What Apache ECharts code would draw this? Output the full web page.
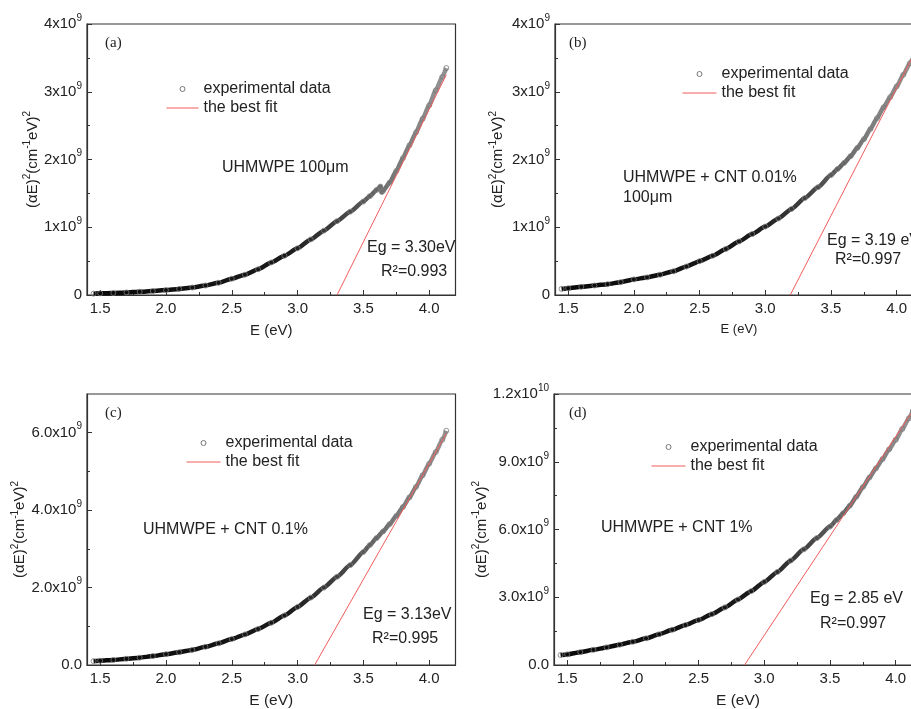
<!DOCTYPE html>
<html>
<head>
<meta charset="utf-8">
<script src="https://cdn.jsdelivr.net/npm/echarts@6/dist/echarts.min.js"></script>
<style>
  html, body { margin: 0; padding: 0; background: #fff; }
  #chart { width: 911px; height: 709px; }
</style>
</head>
<body>
<div id="chart"></div>
<script>
// Photon energy E (eV) of the sampled absorption points
const energy = [1.45, 1.5, 1.6, 1.7, 1.8, 1.9, 2.0, 2.1, 2.2, 2.3, 2.4, 2.5, 2.6, 2.7, 2.8, 2.9,
  3.0, 3.1, 3.2, 3.3, 3.4, 3.5, 3.55, 3.6, 3.65, 3.7, 3.75, 3.8, 3.85, 3.9, 3.95, 4.0, 4.05, 4.1, 4.13];
// pure UHMWPE has a small step near 3.63 eV (lamp change)
const energyA = [1.45, 1.5, 1.6, 1.7, 1.8, 1.9, 2.0, 2.1, 2.2, 2.3, 2.4, 2.5, 2.6, 2.7, 2.8, 2.9,
  3.0, 3.1, 3.2, 3.3, 3.4, 3.5, 3.55, 3.6, 3.63, 3.64, 3.65, 3.7, 3.75, 3.8, 3.85, 3.9, 3.95, 4.0, 4.05, 4.1, 4.13];

// (αE)^2 in units of 1e9 cm^-2 eV^2
const alphaE2_A = [0.02, 0.025, 0.03, 0.038, 0.047, 0.058, 0.072, 0.09, 0.11, 0.14, 0.18, 0.24, 0.30, 0.38, 0.48, 0.58,
  0.69, 0.82, 0.95, 1.09, 1.23, 1.38, 1.46, 1.55, 1.60, 1.52, 1.54, 1.66, 1.83, 2.02, 2.21, 2.40, 2.60, 2.80, 3.02, 3.22, 3.35];
const alphaE2_B = [0.09, 0.10, 0.12, 0.14, 0.16, 0.19, 0.23, 0.26, 0.30, 0.35, 0.42, 0.50, 0.58, 0.68, 0.79, 0.90,
  1.01, 1.13, 1.27, 1.43, 1.59, 1.77, 1.86, 1.95, 2.05, 2.17, 2.30, 2.45, 2.61, 2.77, 2.92, 3.08, 3.25, 3.42, 3.52];
const alphaE2_C = [0.10, 0.11, 0.13, 0.16, 0.19, 0.23, 0.28, 0.33, 0.39, 0.47, 0.56, 0.67, 0.79, 0.93, 1.09, 1.28,
  1.50, 1.74, 2.00, 2.28, 2.58, 2.92, 3.10, 3.28, 3.45, 3.64, 3.85, 4.08, 4.33, 4.60, 4.90, 5.20, 5.50, 5.82, 6.05];
const alphaE2_D = [0.44, 0.47, 0.57, 0.67, 0.78, 0.90, 1.03, 1.18, 1.36, 1.56, 1.77, 1.99, 2.25, 2.55, 2.90, 3.27,
  3.68, 4.12, 4.62, 5.12, 5.62, 6.13, 6.42, 6.72, 7.05, 7.45, 7.88, 8.30, 8.71, 9.12, 9.55, 9.97, 10.45, 10.92, 11.25];

// Linear fits: start at the band gap Eg (zero crossing), end at the last measured energy
const fitEnergyA = [3.30, 4.13];
const fitValueA = [0, 3.25];
const fitEnergyB = [3.19, 4.13];
const fitValueB = [0, 3.55];
const fitEnergyC = [3.13, 4.13];
const fitValueC = [0, 5.98];
const fitEnergyD = [2.85, 4.13];
const fitValueD = [0, 11.25];

// Axis ticks (E in eV, (αE)^2 in 1e9 units)
const xMajorTicks = [1.5, 2.0, 2.5, 3.0, 3.5, 4.0];
const xMinorTicks = [1.75, 2.25, 2.75, 3.25, 3.75];
const yMajorAB = [0, 1, 2, 3, 4];
const yMinorAB = [0.5, 1.5, 2.5, 3.5];
const yMajorC = [0, 2, 4, 6];
const yMinorC = [1, 3, 5];
const yMajorD = [0, 3, 6, 9, 12];
const yMinorD = [1.5, 4.5, 7.5, 10.5];

// Panel texts
const panelTags = ['(a)', '(b)', '(c)', '(d)'];
const sampleNames = ['UHMWPE 100μm', 'UHMWPE + CNT 0.01%\n100μm', 'UHMWPE + CNT 0.1%', 'UHMWPE + CNT 1%'];
const gapTexts = ['Eg = 3.30eV', 'Eg = 3.19 eV', 'Eg = 3.13eV', 'Eg = 2.85 eV'];
const r2Texts = ['R²=0.993', 'R²=0.997', 'R²=0.995', 'R²=0.997'];

const FONT = "'Liberation Sans', Arial, Helvetica, sans-serif";
const SERIF = "'Liberation Serif', 'Times New Roman', serif";
const INK = '#222';
const AXIS = '#333';
const FIT_RED = '#f25c5c';
const CLEAR = 'rgba(0,0,0,0)';

const panels = [
  { grid: { left: 87, top: 24, width: 368.5, height: 271 }, energy: energyA, values: alphaE2_A,
    fitE: fitEnergyA, fitV: fitValueA, yMax: 4, yMajor: yMajorAB, yMinor: yMinorAB, yDec: 0,
    yNameGap: 44, xNameSize: 15,
    legend: { left: 166, top: 81, itemWidth: 32 },
    tag: [105, 43], name: [222, 168], eg: [367, 248], r2: [381, 272] },
  { grid: { left: 555, top: 24, width: 368, height: 271 }, energy: energy, values: alphaE2_B,
    fitE: fitEnergyB, fitV: fitValueB, yMax: 4, yMajor: yMajorAB, yMinor: yMinorAB, yDec: 0,
    yNameGap: 47, xNameSize: 13,
    legend: { left: 682, top: 66, itemWidth: 34 },
    tag: [569, 43], name: [623, 188], eg: [827, 241], r2: [835, 260] },
  { grid: { left: 87, top: 394, width: 368.5, height: 271 }, energy: energy, values: alphaE2_C,
    fitE: fitEnergyC, fitV: fitValueC, yMax: 7, yMajor: yMajorC, yMinor: yMinorC, yDec: 1,
    yNameGap: 55, xNameSize: 15.5,
    legend: { left: 186, top: 435, itemWidth: 34 },
    tag: [105, 413], name: [143, 530], eg: [363, 615], r2: [372, 639] },
  { grid: { left: 554, top: 394, width: 368, height: 271 }, energy: energy, values: alphaE2_D,
    fitE: fitEnergyD, fitV: fitValueD, yMax: 12, yMajor: yMajorD, yMinor: yMinorD, yDec: 1,
    yNameGap: 57, xNameSize: 15.5,
    legend: { left: 651, top: 439, itemWidth: 34 },
    tag: [569, 413], name: [601, 528], eg: [810, 599], r2: [820, 624] }
];

// "4x10^9"-style label; axis values are in units of 1e9
function sciLabel(v, decimals) {
  if (v === 0) return '{m|' + (0).toFixed(decimals) + '}';
  const raw = v * 1e9;
  const exp = Math.floor(Math.log10(raw) + 1e-9);
  const mant = raw / Math.pow(10, exp);
  return '{m|' + mant.toFixed(decimals) + 'x10}{s|' + exp + '}';
}

const tickRich = {
  m: { fontSize: 15, color: INK, fontFamily: FONT, lineHeight: 22 },
  s: { fontSize: 10, color: INK, fontFamily: FONT, verticalAlign: 'top', lineHeight: 10 }
};
const yNameRich = {
  n: { fontSize: 15, color: INK, fontFamily: FONT, lineHeight: 20 },
  s: { fontSize: 10, color: INK, fontFamily: FONT, verticalAlign: 'top', lineHeight: 10 }
};

const grids = [], xAxes = [], yAxes = [], series = [], legends = [], texts = [];

panels.forEach((p, i) => {
  grids.push(Object.assign({
    show: true, borderColor: AXIS, borderWidth: 1.2, backgroundColor: 'transparent',
    containLabel: false, outerBoundsMode: 'none'
  }, p.grid));

  // main x axis: labels and major ticks
  xAxes.push({
    gridIndex: i, type: 'value', min: 1.4, max: 4.2, position: 'bottom',
    axisLine: { show: true, onZero: false, lineStyle: { color: AXIS, width: 1.2 } },
    axisTick: { show: true, inside: true, length: 5, customValues: xMajorTicks, lineStyle: { color: AXIS, width: 1 } },
    axisLabel: { customValues: xMajorTicks, formatter: v => v.toFixed(1), fontSize: 15, color: INK, fontFamily: FONT, margin: 6 },
    splitLine: { show: false },
    name: 'E (eV)', nameLocation: 'middle', nameGap: 28,
    nameTextStyle: { fontSize: p.xNameSize, color: INK, fontFamily: FONT }
  });
  // companion x axis: minor ticks only
  xAxes.push({
    gridIndex: i, type: 'value', min: 1.4, max: 4.2, position: 'bottom',
    axisLine: { show: false, onZero: false },
    axisTick: { show: true, inside: true, length: 3, customValues: xMinorTicks, lineStyle: { color: AXIS, width: 1 } },
    axisLabel: { show: false }, splitLine: { show: false }
  });

  yAxes.push({
    gridIndex: i, type: 'value', min: 0, max: p.yMax, position: 'left',
    axisLine: { show: true, onZero: false, lineStyle: { color: AXIS, width: 1.2 } },
    axisTick: { show: true, inside: true, length: 5, customValues: p.yMajor, lineStyle: { color: AXIS, width: 1 } },
    axisLabel: { customValues: p.yMajor, formatter: v => sciLabel(v, p.yDec), rich: tickRich, margin: 5 },
    splitLine: { show: false },
    name: '{n|(αE)}{s|2}{n|(cm}{s|-1}{n|eV)}{s|2}',
    nameLocation: 'middle', nameRotate: 90, nameGap: p.yNameGap,
    nameTextStyle: { color: INK, fontFamily: FONT, fontSize: 15, rich: yNameRich }
  });
  yAxes.push({
    gridIndex: i, type: 'value', min: 0, max: p.yMax, position: 'left',
    axisLine: { show: false, onZero: false },
    axisTick: { show: true, inside: true, length: 3, customValues: p.yMinor, lineStyle: { color: AXIS, width: 1 } },
    axisLabel: { show: false }, splitLine: { show: false }
  });

  // measured points: dense open circles that merge into a dark band
  series.push({
    type: 'line', name: 'experimental data',
    xAxisIndex: 2 * i, yAxisIndex: 2 * i,
    data: p.energy.map((e, k) => [e, p.values[k]]),
    smooth: 0.2, smoothMonotone: 'x',
    symbol: 'circle', symbolSize: 5, showSymbol: true, showAllSymbol: true,
    itemStyle: { color: CLEAR, borderColor: '#7a7a7a', borderWidth: 0.8 },
    lineStyle: {
      width: 4.5,
      color: new echarts.graphic.LinearGradient(0, 0, 1, 0, [
        { offset: 0, color: '#080808' },
        { offset: 0.55, color: '#1a1a1a' },
        { offset: 0.72, color: '#4a4a4a' },
        { offset: 0.85, color: '#7a7a7a' },
        { offset: 1, color: '#959595' }
      ])
    },
    emphasis: { disabled: true }, silent: true, z: 2
  });
  // linear extrapolation to the band gap
  series.push({
    type: 'line', name: 'the best fit',
    xAxisIndex: 2 * i, yAxisIndex: 2 * i,
    data: p.fitE.map((e, k) => [e, p.fitV[k]]),
    symbol: 'none',
    itemStyle: { color: FIT_RED },
    lineStyle: { color: FIT_RED, width: 1 },
    emphasis: { disabled: true }, silent: true, z: 3
  });

  legends.push({
    orient: 'vertical', left: p.legend.left, top: p.legend.top, padding: 0,
    itemWidth: p.legend.itemWidth, itemHeight: 5, itemGap: 3, selectedMode: false,
    textStyle: { fontSize: 16, color: INK, fontFamily: FONT },
    data: [
      { name: 'experimental data', icon: 'circle',
        itemStyle: { color: CLEAR, borderColor: '#777', borderWidth: 1 } },
      { name: 'the best fit',
        itemStyle: { color: CLEAR, borderColor: CLEAR, borderWidth: 0 },
        lineStyle: { color: FIT_RED, width: 1 } }
    ]
  });

  texts.push({ type: 'text', x: p.tag[0], y: p.tag[1], silent: true,
    style: { text: panelTags[i], font: '15px ' + SERIF, fill: INK, textAlign: 'left', textVerticalAlign: 'middle' } });
  texts.push({ type: 'text', x: p.name[0], y: p.name[1], silent: true,
    style: { text: sampleNames[i], font: '16px ' + FONT, fill: INK, lineHeight: 20, textAlign: 'left', textVerticalAlign: 'middle' } });
  texts.push({ type: 'text', x: p.eg[0], y: p.eg[1], silent: true,
    style: { text: gapTexts[i], font: '16px ' + FONT, fill: INK, textAlign: 'left', textVerticalAlign: 'middle' } });
  texts.push({ type: 'text', x: p.r2[0], y: p.r2[1], silent: true,
    style: { text: r2Texts[i], font: '16px ' + FONT, fill: INK, textAlign: 'left', textVerticalAlign: 'middle' } });
});

const chart = echarts.init(document.getElementById('chart'), null, { renderer: 'canvas' });
chart.setOption({
  animation: false,
  backgroundColor: '#fff',
  textStyle: { fontFamily: FONT },
  grid: grids,
  xAxis: xAxes,
  yAxis: yAxes,
  legend: legends,
  series: series,
  graphic: { elements: texts }
});
</script>
</body>
</html>
